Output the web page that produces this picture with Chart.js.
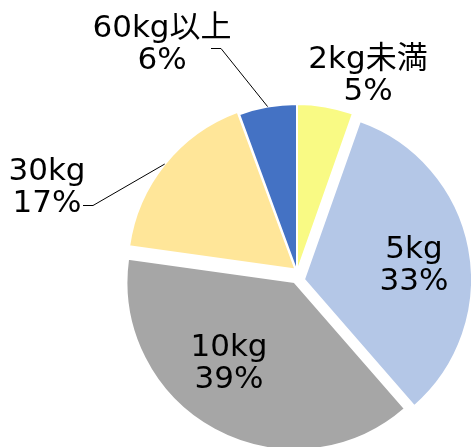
<!DOCTYPE html>
<html>
<head>
<meta charset="utf-8">
<script src="https://cdn.jsdelivr.net/npm/chart.js@4"></script>
<style>
    html, body { margin: 0; padding: 0; background: #fff; }
    #wrap { width: 471px; height: 447px; }
</style>
</head>
<body>
<div id="wrap"><canvas id="weightChart" width="471" height="447"></canvas></div>
<script>
// data
const categories = ['2kg未満', '5kg', '10kg', '30kg', '60kg以上'];
const shares = [5.4, 33.2, 38.6, 17.2, 5.6];

// styles
const sliceColors = ['#F9FA84', '#B4C7E7', '#A6A6A6', '#FFE699', '#4472C4'];
// exploded slices: shift in px (x, y)
const sliceShift = [[0, 0], [7, 7.5], [-2.5, 10], [-1.5, -2.5], [0, 0]];

// label anchors (first baseline, centred) in px from the pie centre
const labelPos = [[71, -204], [117, -14], [-68, 84], [-250, -92], [-135, -235]];
// leader lines start here (px from pie centre), then run to the slice edge
const leaderStart = { 3: [-214, -67], 4: [-86, -224] };

// pie whose slices can be pulled out in any direction
class ShiftedPieController extends Chart.PieController {
    draw() {
        const ctx = this.chart.ctx;
        const area = this.chart.chartArea;
        this._cachedMeta.data.forEach((arc, i) => {
            ctx.save();
            ctx.translate(sliceShift[i][0], sliceShift[i][1]);
            arc.draw(ctx, area);
            ctx.restore();
        });
    }
}
ShiftedPieController.id = 'shiftedPie';
ShiftedPieController.defaults = Chart.PieController.defaults;
Chart.register(ShiftedPieController);

const sliceLabels = {
    id: 'sliceLabels',
    afterDatasetsDraw(chart) {
        const ctx = chart.ctx;
        const meta = chart.getDatasetMeta(0);
        const total = shares.reduce((a, b) => a + b, 0);
        ctx.save();
        ctx.font = '31px "DejaVu Sans", "Noto Sans CJK JP"';
        ctx.fillStyle = '#000';
        ctx.strokeStyle = '#000';
        ctx.lineWidth = 1;
        ctx.textAlign = 'center';
        ctx.textBaseline = 'alphabetic';
        meta.data.forEach((arc, i) => {
            const cx = arc.x, cy = arc.y;
            const pct = Math.round(shares[i] / total * 100) + '%';
            const [dx, dy] = labelPos[i];
            ctx.fillText(categories[i], cx + dx, cy + dy);
            ctx.fillText(pct, cx + dx, cy + dy + 32);

            if (leaderStart[i]) {
                const mid = (arc.startAngle + arc.endAngle) / 2;
                const sx = cx + leaderStart[i][0];
                const sy = cy + leaderStart[i][1];
                const ex = cx + sliceShift[i][0] + Math.cos(mid) * arc.outerRadius;
                const ey = cy + sliceShift[i][1] + Math.sin(mid) * arc.outerRadius;
                ctx.beginPath();
                ctx.moveTo(sx, sy + 0.5);
                ctx.lineTo(sx + 10, sy + 0.5);
                ctx.lineTo(ex, ey);
                ctx.stroke();
            }
        });
        ctx.restore();
    }
};

const ctx = document.getElementById('weightChart').getContext('2d');
new Chart(ctx, {
    type: 'shiftedPie',
    data: {
        labels: categories,
        datasets: [{
            data: shares,
            backgroundColor: sliceColors,
            borderColor: '#fff',
            borderWidth: 2,
            radius: 168,
            clip: false
        }]
    },
    options: {
        responsive: false,
        animation: false,
        layout: {
            padding: { left: 123, right: 0, top: 97, bottom: 0 }
        },
        plugins: {
            legend: { display: false },
            tooltip: { enabled: false },
            title: { display: false }
        }
    },
    plugins: [sliceLabels]
});
</script>
</body>
</html>
